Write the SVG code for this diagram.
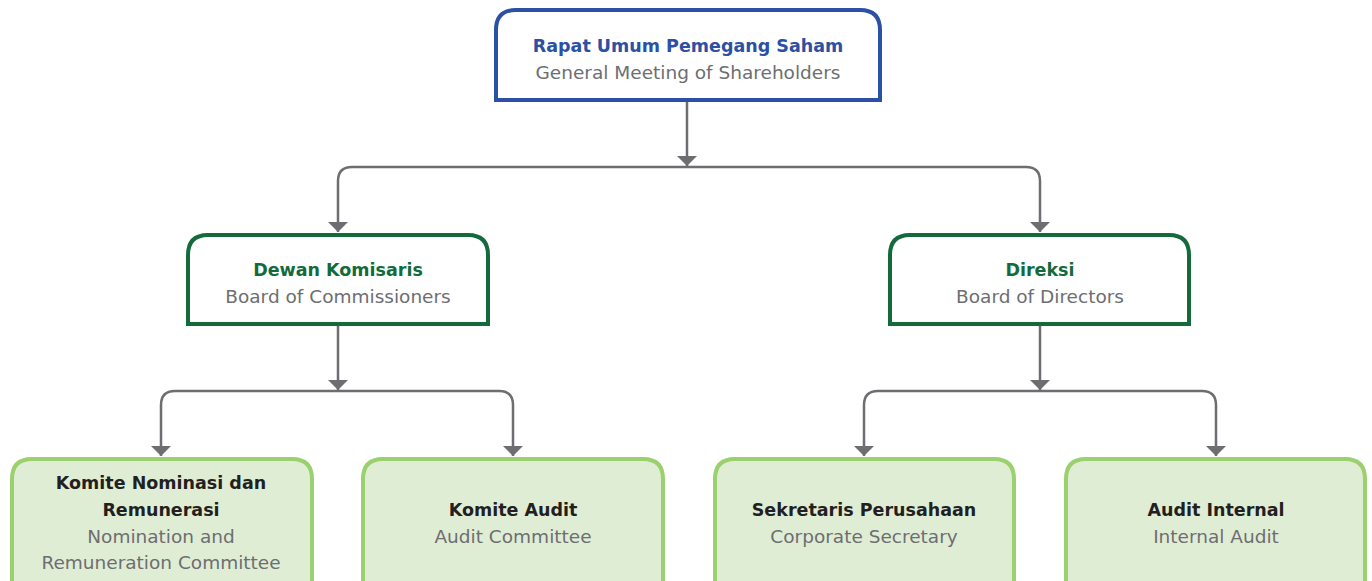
<svg xmlns="http://www.w3.org/2000/svg" width="1372" height="581" viewBox="0 0 1372 581">
<defs>
<marker id="arr" viewBox="0 0 10 20" refX="10" refY="10" markerWidth="10" markerHeight="20" markerUnits="userSpaceOnUse" orient="auto">
<path d="M0,0 L10,10 L0,20 Z" fill="#6d6e71"/>
</marker>
<style>
.t{font-family:"DejaVu Sans","Noto Sans",sans-serif;font-size:18.5px;text-anchor:middle}
.b{font-weight:bold;font-size:17.5px}
.s{fill:#6d6e71}
.c{fill:none;stroke:#6d6e71;stroke-width:2.5}
.top{fill:#fff;stroke:#2b50a4;stroke-width:4}
.mid{fill:#fff;stroke:#136b3b;stroke-width:4}
.bot{fill:#e0edd5;stroke:#9bd06f;stroke-width:4}
</style>
</defs>
<rect width="1372" height="581" fill="#fff"/>
<g id="connectors">
<path class="c" d="M687,101 V166" marker-end="url(#arr)"/>
<path class="c" d="M687,167 H352 Q338,167 338,181 V232" marker-end="url(#arr)"/>
<path class="c" d="M687,167 H1026 Q1040,167 1040,181 V232" marker-end="url(#arr)"/>
<path class="c" d="M338,326 V390" marker-end="url(#arr)"/>
<path class="c" d="M338,391 H175 Q161,391 161,405 V456" marker-end="url(#arr)"/>
<path class="c" d="M338,391 H499 Q513,391 513,405 V456" marker-end="url(#arr)"/>
<path class="c" d="M1040,326 V390" marker-end="url(#arr)"/>
<path class="c" d="M1040,391 H878 Q864,391 864,405 V456" marker-end="url(#arr)"/>
<path class="c" d="M1040,391 H1202 Q1216,391 1216,405 V456" marker-end="url(#arr)"/>
</g>
<g id="rups">
<path class="top" d="M496,100 V30 Q496,10 516,10 H860 Q880,10 880,30 V100 Z"/>
<text class="t b" x="688" y="52" fill="#2b50a4">Rapat Umum Pemegang Saham</text>
<text class="t s" x="688" y="79">General Meeting of Shareholders</text>
</g>
<g id="dekom">
<path class="mid" d="M188,324 V255 Q188,235 208,235 H468 Q488,235 488,255 V324 Z"/>
<text class="t b" x="338" y="276" fill="#136b3b">Dewan Komisaris</text>
<text class="t s" x="338" y="303">Board of Commissioners</text>
</g>
<g id="direksi">
<path class="mid" d="M890,324 V255 Q890,235 910,235 H1169 Q1189,235 1189,255 V324 Z"/>
<text class="t b" x="1040" y="276" fill="#136b3b">Direksi</text>
<text class="t s" x="1040" y="303">Board of Directors</text>
</g>
<g id="knr">
<path class="bot" d="M12,590 V479 Q12,459 32,459 H292 Q312,459 312,479 V590"/>
<text class="t b" x="161" y="489" fill="#231f20">Komite Nominasi dan</text>
<text class="t b" x="161" y="516" fill="#231f20">Remunerasi</text>
<text class="t s" x="161" y="543">Nomination and</text>
<text class="t s" x="161" y="569">Remuneration Committee</text>
</g>
<g id="audit">
<path class="bot" d="M363,590 V479 Q363,459 383,459 H643 Q663,459 663,479 V590"/>
<text class="t b" x="513" y="516" fill="#231f20">Komite Audit</text>
<text class="t s" x="513" y="543">Audit Committee</text>
</g>
<g id="sekper">
<path class="bot" d="M715,590 V479 Q715,459 735,459 H994 Q1014,459 1014,479 V590"/>
<text class="t b" x="864" y="516" fill="#231f20">Sekretaris Perusahaan</text>
<text class="t s" x="864" y="543">Corporate Secretary</text>
</g>
<g id="ia">
<path class="bot" d="M1066,590 V479 Q1066,459 1086,459 H1345 Q1365,459 1365,479 V590"/>
<text class="t b" x="1216" y="516" fill="#231f20">Audit Internal</text>
<text class="t s" x="1216" y="543">Internal Audit</text>
</g>
</svg>
